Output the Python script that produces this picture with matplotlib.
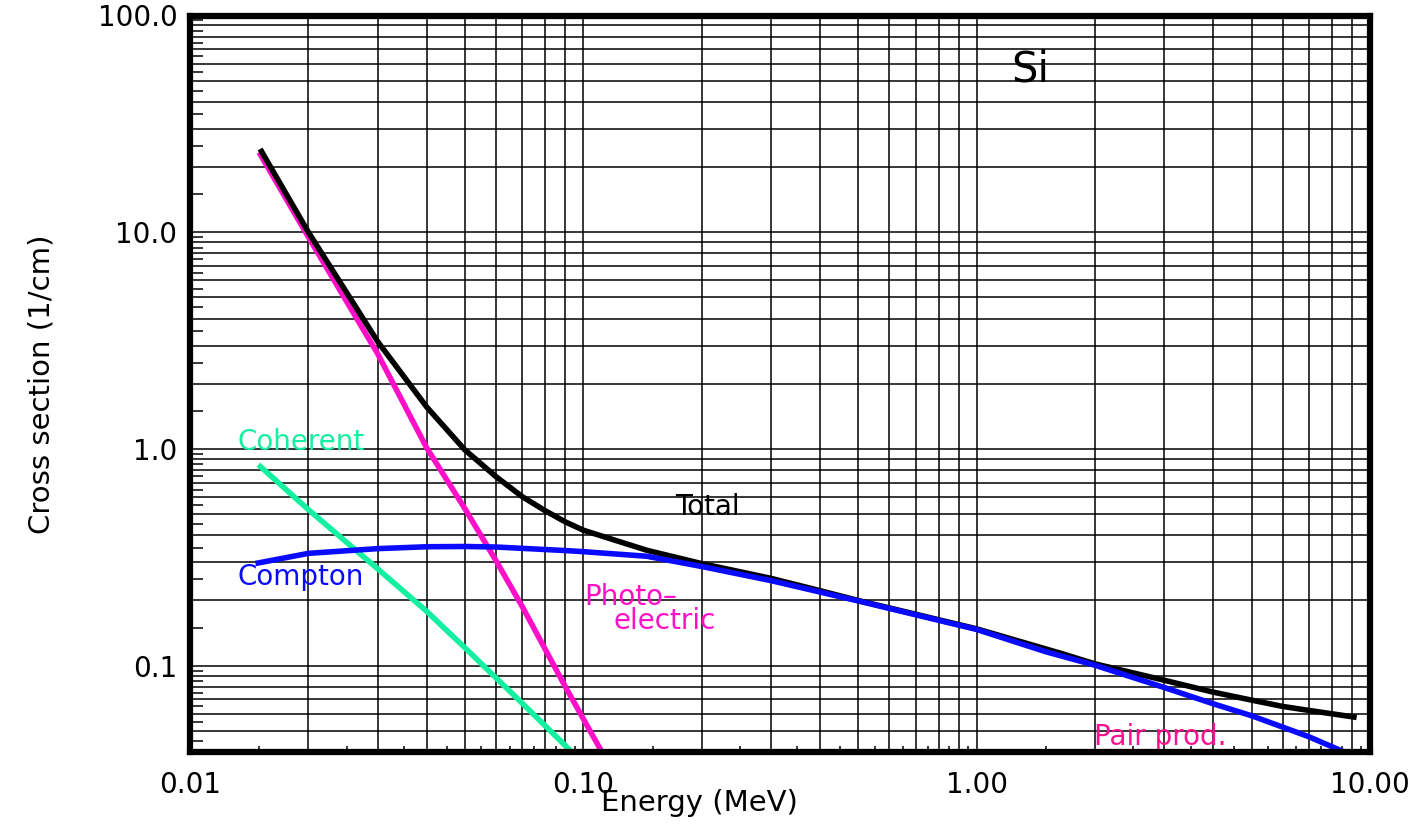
import numpy as np
import matplotlib
matplotlib.use("Agg")
import matplotlib.pyplot as plt
from matplotlib.ticker import FixedLocator, FixedFormatter

# values (energy in MeV, cross section in 1/cm)
energy_total = [0.0152, 0.02, 0.03, 0.04, 0.05, 0.06, 0.07, 0.08, 0.09, 0.10, 0.145,
                0.2, 0.3, 0.4, 0.5, 1.0, 1.64, 2.0, 3.0, 4.0, 5.0, 6.0, 7.0, 9.1]
sigma_total = [23.6, 10.0, 3.13, 1.56, 0.99, 0.745, 0.602, 0.519, 0.461, 0.422, 0.341,
               0.296, 0.253, 0.222, 0.200, 0.148, 0.114, 0.102, 0.0857, 0.0755, 0.0694, 0.0649, 0.0622, 0.058]

energy_compton = [0.0149, 0.02, 0.03, 0.04, 0.05, 0.06, 0.09, 0.10, 0.145, 0.2, 0.3, 0.5,
                  1.0, 1.5, 2.0, 3.0, 4.0, 5.0, 6.0, 7.0, 8.85]
sigma_compton = [0.298, 0.33, 0.347, 0.354, 0.355, 0.353, 0.340, 0.336, 0.320, 0.287, 0.247, 0.199,
                 0.147, 0.116, 0.1005, 0.0793, 0.0667, 0.0588, 0.0521, 0.0470, 0.0391]

energy_photo = [0.0151, 0.02, 0.03, 0.04, 0.05, 0.06, 0.07, 0.09, 0.112]
sigma_photo = [22.8, 9.5, 2.75, 1.01, 0.53, 0.305, 0.187, 0.080, 0.0394]

energy_coherent = [0.0151, 0.02, 0.03, 0.04, 0.05, 0.07, 0.0943]
sigma_coherent = [0.83, 0.525, 0.28, 0.178, 0.121, 0.067, 0.0394]

x_decades = [0.01, 0.1, 1.0, 10.0]
x_tick_labels = ['0.01', '0.10', '1.00', '10.00']
y_decades = [0.1, 1.0, 10.0, 100.0]
y_tick_labels = ['0.1', '1.0', '10.0', '100.0']

plt.rcParams['font.family'] = ['DejaVu Sans']

fig = plt.figure(figsize=(14.24, 8.36), dpi=100)
ax = fig.add_axes([190 / 1424, 1 - 752 / 836, 1180 / 1424, 736.5 / 836])
ax.set_xscale('log')
ax.set_yscale('log')
ax.set_xlim(0.01, 10)
ax.set_ylim(0.04, 100)


def grid_ticks(decades, labels, lo, hi):
    # gridlines at 1..9 x decade, labels only on the decades
    pos, txt = [], []
    for n in range(lo, hi + 1):
        for k in range(1, 10):
            v = k * 10.0 ** n
            pos.append(v)
            lab = ''
            for d, t in zip(decades, labels):
                if np.isclose(v, d):
                    lab = t
            txt.append(lab)
    half = [(k + 0.5) * 10.0 ** n for n in range(lo, hi + 1) for k in range(1, 10)]
    return pos, txt, half


xpos, xtxt, xhalf = grid_ticks(x_decades, x_tick_labels, -2, 1)
ypos, ytxt, yhalf = grid_ticks(y_decades, y_tick_labels, -2, 2)

ax.xaxis.set_major_locator(FixedLocator(xpos))
ax.xaxis.set_major_formatter(FixedFormatter(xtxt))
ax.xaxis.set_minor_locator(FixedLocator(xhalf))
ax.yaxis.set_major_locator(FixedLocator(ypos))
ax.yaxis.set_major_formatter(FixedFormatter(ytxt))
ax.yaxis.set_minor_locator(FixedLocator(yhalf))
ax.xaxis.set_minor_formatter(FixedFormatter([]))
ax.yaxis.set_minor_formatter(FixedFormatter([]))

ax.tick_params(which='major', length=0, labelsize=20)
ax.tick_params(axis='x', which='major', pad=14)
ax.tick_params(axis='y', which='major', pad=9)
ax.tick_params(axis='y', which='minor', direction='in', length=9.5, width=1.1)
ax.tick_params(axis='x', which='minor', direction='in', length=4, width=1.1)
ax.grid(True, which='major', color='black', linewidth=1.1)
ax.set_axisbelow(True)

for sp in ax.spines.values():
    sp.set_linewidth(4.5)
    sp.set_zorder(5)

ax.plot(energy_coherent, sigma_coherent, color='#12f0a0', lw=4, zorder=3)
ax.plot(energy_photo, sigma_photo, color='#ff10c8', lw=4, zorder=3)
ax.plot(energy_total, sigma_total, color='black', lw=4, zorder=3)
ax.plot(energy_compton, sigma_compton, color='#0a0aff', lw=4, zorder=4)

ax.text(0.01915, 0.989, 'Coherent', color='#12f0a0', fontsize=20, ha='center', va='baseline')
ax.text(0.01915, 0.2354, 'Compton', color='#0a0aff', fontsize=20, ha='center', va='baseline')
ax.text(0.2063, 0.4956, 'Total', color='black', fontsize=20, ha='center', va='baseline')
ax.text(0.1322, 0.1903, 'Photo\u2013', color='#ff10c8', fontsize=20, ha='center', va='baseline')
ax.text(0.1609, 0.1474, 'electric', color='#ff10c8', fontsize=20, ha='center', va='baseline')
ax.text(2.926, 0.04293, 'Pair prod.', color='#ff1090', fontsize=20, ha='center', va='baseline')
ax.text(1.367, 49.57, 'Si', color='black', fontsize=30, ha='center', va='baseline')

ax.set_xlabel('Energy (MeV)', fontsize=21)
ax.set_ylabel('Cross section (1/cm)', fontsize=21)
ax.xaxis.set_label_coords(0.432, -0.05)
ax.yaxis.set_label_coords(-0.114, 0.5)

fig.savefig('out.png', dpi=100)
